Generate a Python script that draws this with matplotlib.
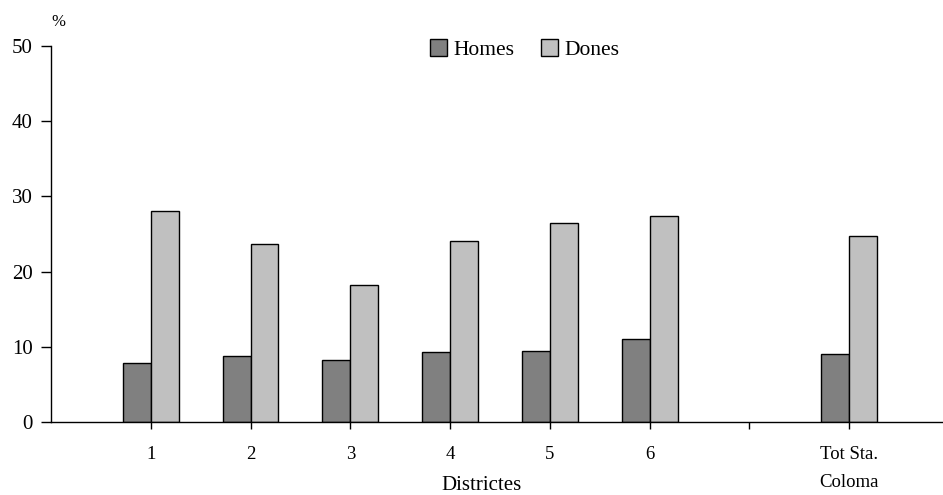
import numpy as np
import matplotlib.pyplot as plt

plt.rcParams["font.family"] = ["Liberation Serif", "DejaVu Serif"]

# District percentages by sex
categories = ["1", "2", "3", "4", "5", "6", "", "Tot Sta.\nColoma"]
homes = [7.8, 8.8, 8.2, 9.3, 9.5, 11.0, np.nan, 9.0]
dones = [28.1, 23.7, 18.2, 24.1, 26.4, 27.4, np.nan, 24.7]

W, H = 943, 495
fig = plt.figure(figsize=(W / 100, H / 100), dpi=100)
ax = fig.add_axes([51 / W, 1 - 422 / H, 1 - 51 / W, (422 - 46) / H])

x = np.arange(1, len(categories) + 1)
width = 0.28
ax.bar(x - width / 2, homes, width, color="#808080", edgecolor="black",
       linewidth=1.0, label="Homes")
ax.bar(x + width / 2, dones, width, color="#c0c0c0", edgecolor="black",
       linewidth=1.0, label="Dones")

ax.set_xlim(0.0, 8.94)
ax.set_ylim(0, 50)
ax.set_yticks(range(0, 51, 10))
ax.set_xticks(x)
ax.set_xticklabels(categories, fontsize=13.5, linespacing=1.9)

for side in ("top", "right"):
    ax.spines[side].set_visible(False)
ax.spines["left"].set_linewidth(1.0)
ax.spines["bottom"].set_linewidth(1.0)
ax.tick_params(axis="y", direction="out", length=7, width=1, labelsize=15, pad=6)
ax.tick_params(axis="x", direction="out", length=5, width=1, pad=12)

fig.text(482 / W, 1 - 486 / H, "Districtes", fontsize=15,
         ha="center", va="center")
fig.text(51 / W, 1 - 22 / H, "%", fontsize=12, ha="left", va="center")

ax.legend(loc="center", bbox_to_anchor=(0.531, 0.99), ncol=2,
          frameon=False, fontsize=15.5, handlelength=0.8, handleheight=0.8,
          handletextpad=0.3, columnspacing=1.2, borderpad=0)

fig.savefig("out.png", dpi=100)
